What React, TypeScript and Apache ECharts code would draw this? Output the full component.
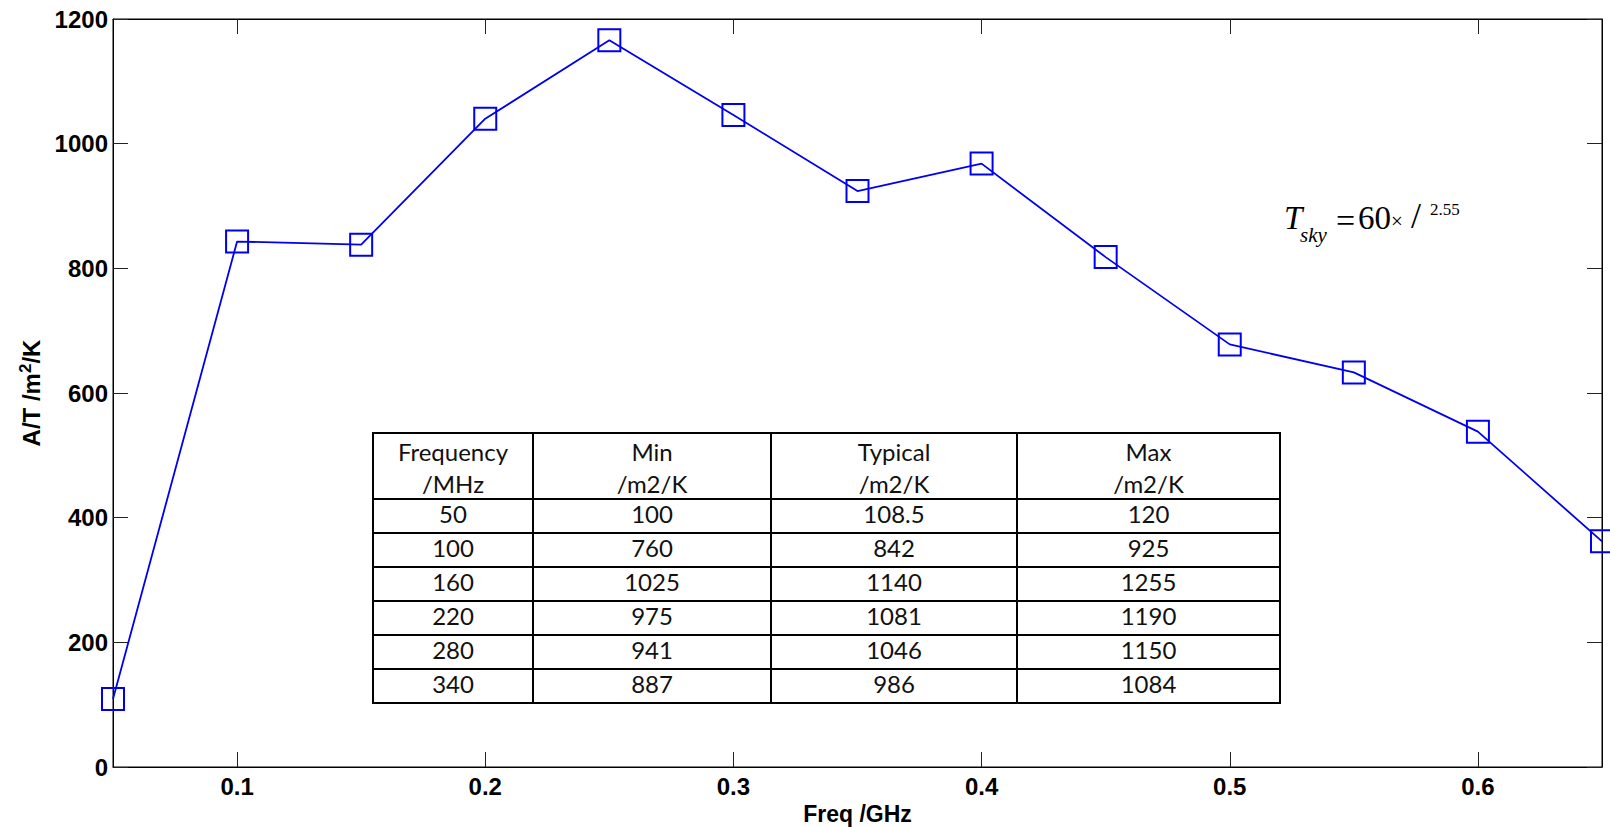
import React, { useEffect, useRef } from 'react';
import * as echarts from 'echarts';

// ---- data ----
const freqGHz = [0.05, 0.1, 0.15, 0.2, 0.25, 0.3, 0.35, 0.4, 0.45, 0.5, 0.55, 0.6, 0.65];
const aOverT = [109, 843, 838, 1040, 1166, 1046, 924, 968, 818, 678, 633, 538, 362];
const xTicks = [0.1, 0.2, 0.3, 0.4, 0.5, 0.6];
const yMin = 0;
const yMax = 1200;
const yInterval = 200;

const tableHeaders = [
  ['Frequency', '/MHz'],
  ['Min', '/m2/K'],
  ['Typical', '/m2/K'],
  ['Max', '/m2/K'],
];
const tableFreqMHz = ['50', '100', '160', '220', '280', '340'];
const tableMin = ['100', '760', '1025', '975', '941', '887'];
const tableTypical = ['108.5', '842', '1140', '1081', '1046', '986'];
const tableMax = ['120', '925', '1255', '1190', '1150', '1084'];

const AXIS_FONT = '"Liberation Sans", Arial, sans-serif';
const TABLE_FONT = 'Lato, "Open Sans", sans-serif';
const SERIF = '"Liberation Serif", "Times New Roman", serif';

function buildTable(): any[] {
  const colX = [373, 533, 771, 1017, 1280];
  const top = 433;
  const headerH = 66;
  const rowH = 34;
  const cols = [tableFreqMHz, tableMin, tableTypical, tableMax];
  const nRows = tableFreqMHz.length;
  const bottom = top + headerH + nRows * rowH;
  const els: any[] = [];
  els.push({
    type: 'rect',
    shape: { x: colX[0], y: top, width: colX[4] - colX[0], height: bottom - top },
    style: { fill: '#fff', stroke: '#000', lineWidth: 2 },
    z: 10,
  });
  for (let c = 1; c < colX.length - 1; c++) {
    els.push({
      type: 'line',
      shape: { x1: colX[c], y1: top, x2: colX[c], y2: bottom },
      style: { stroke: '#000', lineWidth: 2 },
      z: 11,
    });
  }
  for (let r = 0; r < nRows; r++) {
    const y = top + headerH + r * rowH;
    els.push({
      type: 'line',
      shape: { x1: colX[0], y1: y, x2: colX[4], y2: y },
      style: { stroke: '#000', lineWidth: 2 },
      z: 11,
    });
  }
  for (let c = 0; c < 4; c++) {
    const cx = (colX[c] + colX[c + 1]) / 2;
    tableHeaders[c].forEach((t, i) => {
      els.push({
        type: 'text',
        x: cx,
        y: top + 18 + i * 32,
        style: {
          text: t,
          fontSize: 24,
          fontFamily: TABLE_FONT,
          fill: '#111',
          align: 'center',
          verticalAlign: 'middle',
        },
        z: 12,
      });
    });
    cols[c].forEach((t, r) => {
      els.push({
        type: 'text',
        x: cx,
        y: top + headerH + r * rowH + rowH / 2 - 3,
        style: {
          text: t,
          fontSize: 24,
          fontFamily: TABLE_FONT,
          fill: '#111',
          align: 'center',
          verticalAlign: 'middle',
        },
        z: 12,
      });
    });
  }
  return els;
}

function buildFormula(): any[] {
  const mk = (text: string, x: number, y: number, size: number, italic: boolean) => ({
    type: 'text',
    x,
    y,
    style: {
      text,
      fontSize: size,
      fontFamily: SERIF,
      fontStyle: italic ? 'italic' : 'normal',
      fill: '#000',
      align: 'left',
      verticalAlign: 'middle',
    },
    z: 12,
  });
  return [
    mk('T', 1284, 218, 33, true),
    mk('sky', 1300, 235, 21, true),
    mk('=', 1336, 220, 34, false),
    mk('60', 1358, 218, 33, false),
    mk('\u00d7', 1391, 221, 21, false),
    mk('/', 1411, 216, 36, false),
    mk('2.55', 1430, 209, 17, false),
  ];
}

export default function App() {
  const ref = useRef<HTMLDivElement>(null);
  useEffect(() => {
    if (!ref.current) return;
    const chart = echarts.init(ref.current, null, { renderer: 'svg' });
    const axisLine = { show: true, onZero: false, lineStyle: { color: '#000', width: 1 } };
    const tickStyle = { color: '#222', width: 1 };
    const labelStyle = {
      fontSize: 24,
      fontWeight: 'bold',
      color: '#000',
      fontFamily: AXIS_FONT,
    };
    const option: any = {
      animation: false,
      backgroundColor: '#fff',
      grid: {
        left: 113,
        right: 8,
        top: 19,
        bottom: 60,
        show: true,
        borderColor: '#000',
        borderWidth: 1,
        outerBoundsMode: 'none',
      },
      xAxis: [
        {
          type: 'value',
          min: 0.05,
          max: 0.65,
          position: 'bottom',
          axisLine,
          axisTick: { show: true, inside: true, length: 15, customValues: xTicks, lineStyle: tickStyle },
          axisLabel: {
            ...labelStyle,
            customValues: xTicks,
            margin: 7,
            formatter: (v: number) => String(v),
          },
          splitLine: { show: false },
          name: 'Freq /GHz',
          nameLocation: 'middle',
          nameGap: 30,
          nameTextStyle: { ...labelStyle, fontSize: 23 },
        },
        {
          type: 'value',
          min: 0.05,
          max: 0.65,
          position: 'top',
          axisLine,
          axisTick: { show: true, inside: true, length: 15, customValues: xTicks, lineStyle: tickStyle },
          axisLabel: { show: false },
          splitLine: { show: false },
        },
      ],
      yAxis: [
        {
          type: 'value',
          min: yMin,
          max: yMax,
          interval: yInterval,
          position: 'left',
          axisLine,
          axisTick: { show: true, inside: true, length: 15, lineStyle: tickStyle },
          axisLabel: { ...labelStyle, margin: 5, formatter: (v: number) => String(v) },
          splitLine: { show: false },
          name: '{b|A/T /m}{s|2}{b|/K}',
          nameLocation: 'middle',
          nameGap: 66,
          nameTextStyle: {
            rich: {
              b: { fontSize: 24, fontWeight: 'bold', fontFamily: AXIS_FONT, color: '#000', lineHeight: 30 },
              s: { fontSize: 17, fontWeight: 'bold', fontFamily: AXIS_FONT, color: '#000', verticalAlign: 'top', lineHeight: 30 },
            },
          },
        },
        {
          type: 'value',
          min: yMin,
          max: yMax,
          interval: yInterval,
          position: 'right',
          axisLine,
          axisTick: { show: true, inside: true, length: 15, lineStyle: tickStyle },
          axisLabel: { show: false },
          splitLine: { show: false },
        },
      ],
      series: [
        {
          type: 'line',
          data: freqGHz.map((x, i) => [x, aOverT[i]]),
          xAxisIndex: 0,
          yAxisIndex: 0,
          symbol: 'rect',
          symbolSize: 22,
          showSymbol: true,
          clip: false,
          lineStyle: { color: '#0000f0', width: 1.8 },
          itemStyle: { color: 'rgba(0,0,0,0)', borderColor: '#0000f0', borderWidth: 2 },
        },
      ],
      graphic: [...buildTable(), ...buildFormula()],
    };
    chart.setOption(option);
    return () => chart.dispose();
  }, []);
  return (
    <div
      ref={ref}
      style={{ position: 'fixed', left: 0, top: 0, width: 1610, height: 827, background: '#fff' }}
    />
  );
}
